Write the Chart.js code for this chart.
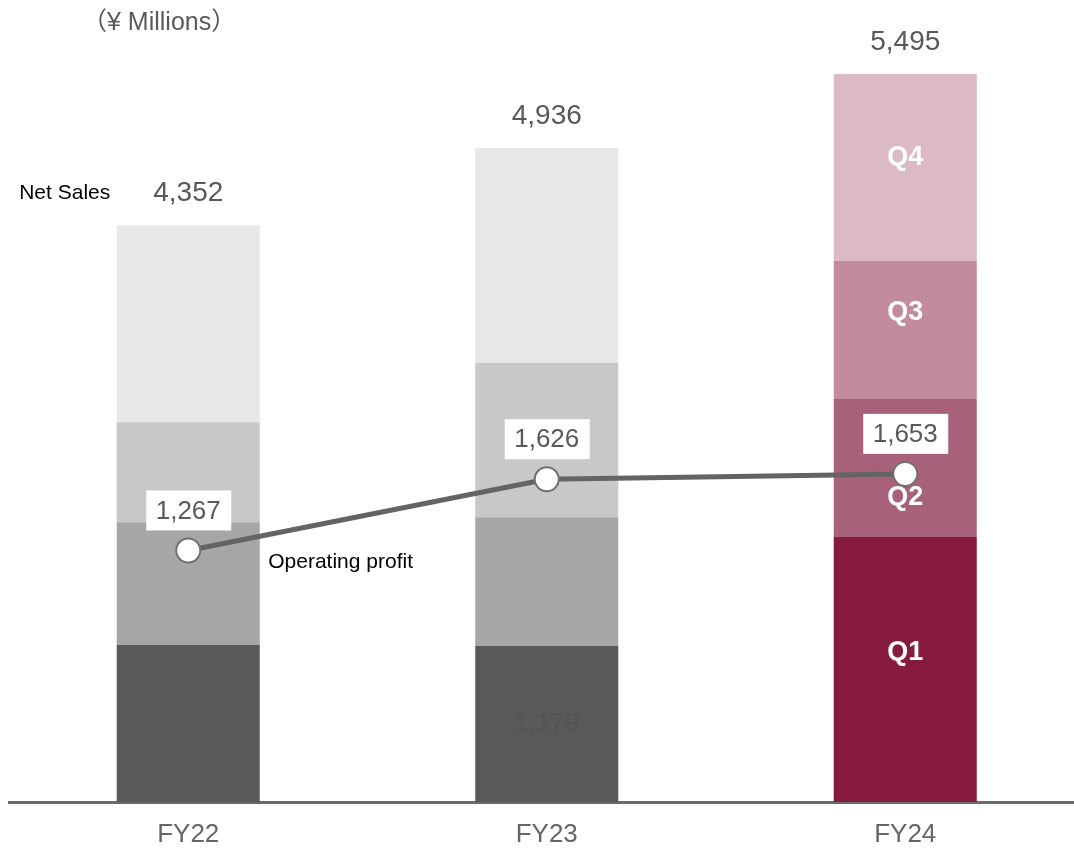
<!DOCTYPE html>
<html>
<head>
<meta charset="utf-8">
<script src="https://cdn.jsdelivr.net/npm/chart.js@4/dist/chart.umd.min.js"></script>
<style>
  html, body { margin: 0; padding: 0; background: #fff; overflow: hidden; }
  canvas { display: block; }
</style>
</head>
<body>
<canvas id="salesChart" width="1085" height="869"></canvas>
<script>
// Net sales by quarter (stacked) and operating profit per fiscal year
const years = ['FY22', 'FY23', 'FY24'];
const q1Sales = [1184, 1179, 2000];
const q2Sales = [928, 970, 1042];
const q3Sales = [754, 1166, 1042];
const q4Sales = [1486, 1621, 1411];
const netSales = [4352, 4936, 5495];
const operatingProfit = [1267, 1626, 1653];
const quarterNames = ['Q1', 'Q2', 'Q3', 'Q4'];

const greys = ['#5a5a5a', '#a6a6a6', '#c8c8c8', '#e8e8e8'];
const wines = ['#861b3f', '#a8617a', '#c38c9e', '#dbb9c5'];
const fillFor = q => [greys[q], greys[q], wines[q]];

const fmt = v => v.toLocaleString('en-US');
const salesMax = 5800;
const profitMax = salesMax * 0.6675;

const labelPlugin = {
    id: 'labels',
    afterDatasetsDraw(chart) {
        const ctx = chart.ctx;
        const top = chart.getDatasetMeta(3).data;
        const line = chart.getDatasetMeta(4).data;
        ctx.save();
        ctx.textAlign = 'center';
        ctx.textBaseline = 'middle';

        // totals above each bar
        ctx.fillStyle = '#595959';
        ctx.font = '28px "Liberation Sans", Arial, sans-serif';
        top.forEach((bar, i) => ctx.fillText(fmt(netSales[i]), bar.x, bar.y - 32));

        // faint value inside the FY23 first-quarter block
        const fy23q1 = chart.getDatasetMeta(0).data[1];
        ctx.fillStyle = '#545454';
        ctx.font = '26px "Liberation Sans", Arial, sans-serif';
        ctx.fillText(fmt(q1Sales[1]), fy23q1.x, (fy23q1.y + fy23q1.base) / 2);

        // quarter names on the latest year
        const shift = [-17, 30, -17, -10];
        ctx.fillStyle = '#ffffff';
        ctx.font = 'bold 27px "Liberation Sans", Arial, sans-serif';
        quarterNames.forEach((name, q) => {
            const seg = chart.getDatasetMeta(q).data[2];
            ctx.fillText(name, seg.x, (seg.y + seg.base) / 2 + shift[q]);
        });

        // operating profit value boxes
        ctx.font = '26px "Liberation Sans", Arial, sans-serif';
        line.forEach((pt, i) => {
            const cy = pt.y - 40;
            ctx.fillStyle = '#ffffff';
            ctx.fillRect(pt.x - 42, cy - 20, 85, 40);
            ctx.fillStyle = '#595959';
            ctx.fillText(fmt(operatingProfit[i]), pt.x, cy + 1);
        });

        // series captions
        ctx.fillStyle = '#000000';
        ctx.font = '21px "Liberation Sans", Arial, sans-serif';
        ctx.textAlign = 'right';
        ctx.fillText('Net Sales', top[0].x - 78, top[0].y - 32);
        ctx.textAlign = 'left';
        ctx.fillText('Operating profit', line[0].x + 80, line[0].y + 12);

        // unit note
        ctx.fillStyle = '#595959';
        ctx.font = '25px "Liberation Sans", "Noto Sans CJK JP", sans-serif';
        ctx.fillText('（¥ Millions）', 82, 23);
        ctx.restore();
    }
};

const barSet = (data, q) => ({
    type: 'bar',
    label: quarterNames[q],
    data: data,
    backgroundColor: fillFor(q),
    borderWidth: 0,
    stack: 'sales',
    yAxisID: 'y',
    barPercentage: 0.399,
    categoryPercentage: 1.0,
    order: 2
});

new Chart(document.getElementById('salesChart'), {
    data: {
        labels: years,
        datasets: [
            barSet(q1Sales, 0),
            barSet(q2Sales, 1),
            barSet(q3Sales, 2),
            barSet(q4Sales, 3),
            {
                type: 'line',
                label: 'Operating profit',
                data: operatingProfit,
                yAxisID: 'y1',
                borderColor: '#646464',
                borderWidth: 5,
                pointRadius: 12,
                pointBackgroundColor: '#ffffff',
                pointBorderColor: '#707070',
                pointBorderWidth: 2,
                tension: 0,
                order: 1
            }
        ]
    },
    options: {
        responsive: false,
        animation: false,
        layout: {
            autoPadding: false,
            padding: { left: 9, right: 0.5, top: 33.5, bottom: 1 }
        },
        plugins: {
            legend: { display: false },
            tooltip: { enabled: false }
        },
        scales: {
            x: {
                stacked: true,
                grid: { display: false, drawTicks: false },
                border: { display: true, color: '#6b6b6b', width: 3 },
                ticks: {
                    color: '#666666',
                    padding: 20,
                    font: { family: '"Liberation Sans", Arial, sans-serif', size: 26, lineHeight: 1 }
                }
            },
            y: { stacked: true, display: false, min: 0, max: salesMax },
            y1: { display: false, min: 0, max: profitMax }
        }
    },
    plugins: [labelPlugin]
});
</script>
</body>
</html>
